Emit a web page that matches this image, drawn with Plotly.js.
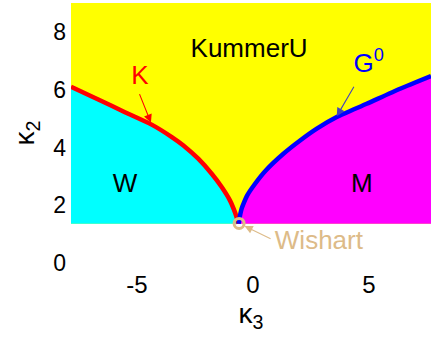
<!DOCTYPE html>
<html>
<head>
<meta charset="utf-8">
<script src="https://cdn.plot.ly/plotly-3.0.1.min.js"></script>
<style>html,body{margin:0;padding:0;background:#fff;}#chart{width:431px;height:340px;}</style>
</head>
<body>
<div id="chart"></div>
<script>
// Axis extent and base of the coloured region
const xLimits = [-7.845, 7.672];
const yLimits = [0, 9];
const regionBase = 1.36;

// Boundary K (red), left to right
const kX = [-7.845, -6.67, -5.52, -4.37, -3.50, -3.00, -2.36, -1.78, -1.35, -0.99, -0.78, -0.66, -0.62];
const kY = [6.10, 5.66, 5.22, 4.79, 4.36, 4.07, 3.61, 3.09, 2.63, 2.16, 1.76, 1.47, 1.36];

// Boundary G0 (blue), left to right
const gX = [-0.62, -0.60, -0.49, -0.40, -0.25, 0.05, 0.55, 1.31, 2.03, 2.75, 3.61, 4.90, 6.34, 7.672];
const gY = [1.36, 1.47, 1.88, 2.07, 2.34, 2.70, 3.20, 3.78, 4.24, 4.65, 5.05, 5.51, 6.03, 6.47];

// Wishart point
const wishartX = [-0.60];
const wishartY = [1.37];

// Labels
const labelText = ["KummerU", "W", "M", "K", "G<sup>0</sup>", "Wishart"];
const labelX = [-0.17, -5.52, 4.69, -4.87, 4.99, 2.84];
const labelY = [7.36, 2.68, 2.68, 6.42, 6.85, 0.72];
const labelColor = ["#000000", "#000000", "#000000", "#FF0000", "#0000FF", "#DDBB88"];

// Pointer arrows: tip position (data)
const arrowTipX = [-4.40, 3.61, -0.60];
const arrowTipY = [4.86, 5.08, 1.37];

// Tick values
const xTicks = [-5, 0, 5];
const yTicks = [0, 2, 4, 6, 8];

const FONT = "Arial";

const yellow = {
  x: [xLimits[0], xLimits[1], xLimits[1], xLimits[0]],
  y: [regionBase, regionBase, yLimits[1], yLimits[1]],
  mode: 'lines', fill: 'toself', fillcolor: '#FFFF00', line: {width: 0, color: '#FFFF00'},
  hoverinfo: 'skip', showlegend: false
};
const cyan = {
  x: kX.concat([xLimits[0]]),
  y: kY.concat([regionBase]),
  mode: 'lines', fill: 'toself', fillcolor: '#00FFFF', line: {width: 0, color: '#00FFFF'},
  hoverinfo: 'skip', showlegend: false
};
const magenta = {
  x: gX.concat([xLimits[1]]),
  y: gY.concat([regionBase]),
  mode: 'lines', fill: 'toself', fillcolor: '#FF00FF', line: {width: 0, color: '#FF00FF'},
  hoverinfo: 'skip', showlegend: false
};
const kLine = {
  x: kX, y: kY, mode: 'lines', line: {color: '#FF0000', width: 4.5, shape: 'spline', smoothing: 0.6},
  name: 'K', showlegend: false
};
const gLine = {
  x: gX, y: gY, mode: 'lines', line: {color: '#0000FF', width: 4.5, shape: 'spline', smoothing: 0.6},
  name: 'G0', showlegend: false
};
const wish = {
  x: wishartX, y: wishartY, mode: 'markers', name: 'Wishart', showlegend: false,
  marker: {symbol: 'circle-open', size: 10, color: '#DDBB88', line: {width: 3, color: '#DDBB88'}},
  cliponaxis: false
};
const labels = {
  x: labelX, y: labelY, text: labelText, mode: 'text', textposition: 'middle center',
  textfont: {family: FONT, size: 26, color: labelColor}, cliponaxis: false,
  showlegend: false, hoverinfo: 'skip'
};

const arrowStyle = [
  {ax: -12, ay: -30, color: '#FF0000', standoff: 0},
  {ax: 18, ay: -31, color: '#4444BB', standoff: 0},
  {ax: 33, ay: 16, color: '#DDBB88', standoff: 6}
];
const annotations = arrowTipX.map((x, i) => ({
  x: x, y: arrowTipY[i], text: '', showarrow: true,
  ax: arrowStyle[i].ax, ay: arrowStyle[i].ay, standoff: arrowStyle[i].standoff,
  arrowcolor: arrowStyle[i].color, arrowwidth: 1.1, arrowhead: 2, arrowsize: 1.5
}));

const layout = {
  width: 431, height: 340,
  margin: {l: 71, r: 0, t: 3, b: 77},
  paper_bgcolor: '#FFFFFF', plot_bgcolor: '#FFFFFF',
  font: {family: FONT, size: 24, color: '#000000'},
  showlegend: false,
  hovermode: false,
  xaxis: {
    range: xLimits, tickvals: xTicks, ticktext: xTicks.map(String),
    showgrid: false, zeroline: false, showline: false, ticks: '', fixedrange: true,
    ticklabelstandoff: 5, tickfont: {family: FONT, size: 24},
    title: {text: 'κ<sub>3</sub>', font: {family: FONT, size: 28}, standoff: 0}
  },
  yaxis: {
    range: yLimits, tickvals: yTicks, ticktext: yTicks.map(String),
    showgrid: false, zeroline: false, showline: false, ticks: '', fixedrange: true,
    ticklabelstandoff: 4, tickfont: {family: FONT, size: 23},
    title: {text: 'κ<sub>2</sub>', font: {family: FONT, size: 28}, standoff: 10}
  },
  annotations: annotations
};

Plotly.newPlot('chart', [yellow, cyan, magenta, kLine, gLine, wish, labels], layout, {displayModeBar: false});
</script>
</body>
</html>
